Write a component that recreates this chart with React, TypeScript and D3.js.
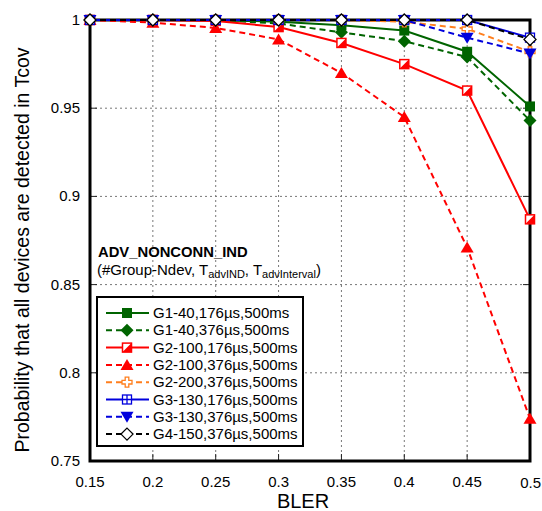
import React from 'react'
import * as d3 from 'd3'

const bler = [0.15, 0.2, 0.25, 0.3, 0.35, 0.4, 0.45, 0.5]
const g1_40_176 = [1, 1, 1, 0.999, 0.997, 0.994, 0.982, 0.951]
const g1_40_376 = [1, 1, 1, 0.998, 0.993, 0.988, 0.979, 0.943]
const g2_100_176 = [1, 1, 0.9995, 0.996, 0.987, 0.975, 0.96, 0.887]
const g2_100_376 = [1, 0.9985, 0.9955, 0.989, 0.97, 0.945, 0.871, 0.774]
const g2_200_376 = [1, 1, 1, 1, 1, 0.999, 0.995, 0.982]
const g3_130_176 = [1, 1, 1, 1, 1, 1, 1, 0.99]
const g3_130_376 = [1, 1, 1, 1, 1, 1, 0.99, 0.981]
const g4_150_376 = [1, 1, 1, 1, 1, 1, 1, 0.989]

const xTicks = [0.15, 0.2, 0.25, 0.3, 0.35, 0.4, 0.45, 0.5]
const xTickLabels = ['0.15', '0.2', '0.25', '0.3', '0.35', '0.4', '0.45', '0.5']
const yTicks = [0.75, 0.8, 0.85, 0.9, 0.95, 1]
const yTickLabels = ['0.75', '0.8', '0.85', '0.9', '0.95', '1']

const series = [
  { name: 'G1-40,176µs,500ms', values: g1_40_176, color: '#006400', dash: null, marker: 'square' },
  { name: 'G1-40,376µs,500ms', values: g1_40_376, color: '#006400', dash: '6,4', marker: 'diamond' },
  { name: 'G2-100,176µs,500ms', values: g2_100_176, color: '#ff0000', dash: null, marker: 'halfsquare' },
  { name: 'G2-100,376µs,500ms', values: g2_100_376, color: '#ff0000', dash: '6,4', marker: 'triangle' },
  { name: 'G2-200,376µs,500ms', values: g2_200_376, color: '#ff7f1e', dash: '6,4', marker: 'cross' },
  { name: 'G3-130,176µs,500ms', values: g3_130_176, color: '#0000dd', dash: null, marker: 'gridsquare' },
  { name: 'G3-130,376µs,500ms', values: g3_130_376, color: '#0000dd', dash: '6,4', marker: 'tridown' },
  { name: 'G4-150,376µs,500ms', values: g4_150_376, color: '#000000', dash: '6,4', marker: 'opendiamond' },
]

const font = 'Liberation Sans, Arial, sans-serif'

const Marker = ({ type, x, y, color }) => {
  const s = 5
  switch (type) {
    case 'square':
      return <rect x={x - s} y={y - s} width={2 * s} height={2 * s} fill={color} />
    case 'diamond':
      return <path d={`M${x},${y - 6.5}L${x + 6.5},${y}L${x},${y + 6.5}L${x - 6.5},${y}Z`} fill={color} />
    case 'halfsquare':
      return (
        <g>
          <rect x={x - 4.5} y={y - 4.5} width={9} height={9} fill="#fff" stroke={color} strokeWidth={1.5} />
          <path d={`M${x + 4.5},${y - 4.5}L${x + 4.5},${y + 4.5}L${x - 4.5},${y + 4.5}Z`} fill={color} />
        </g>
      )
    case 'triangle':
      return <path d={`M${x},${y - 6}L${x + 6.5},${y + 5}L${x - 6.5},${y + 5}Z`} fill={color} />
    case 'cross': {
      const a = 1.8, b = 5
      return (
        <path
          d={`M${x - a},${y - b}H${x + a}V${y - a}H${x + b}V${y + a}H${x + a}V${y + b}H${x - a}V${y + a}H${x - b}V${y - a}H${x - a}Z`}
          fill="#fff"
          stroke={color}
          strokeWidth={1.3}
        />
      )
    }
    case 'gridsquare':
      return (
        <g fill="none" stroke={color} strokeWidth={1.3}>
          <rect x={x - 4.5} y={y - 4.5} width={9} height={9} fill="#fff" />
          <path d={`M${x},${y - 4.5}V${y + 4.5}M${x - 4.5},${y}H${x + 4.5}`} />
        </g>
      )
    case 'tridown':
      return <path d={`M${x},${y + 6}L${x + 6.5},${y - 5}L${x - 6.5},${y - 5}Z`} fill={color} />
    case 'opendiamond':
      return (
        <path
          d={`M${x},${y - 6}L${x + 6},${y}L${x},${y + 6}L${x - 6},${y}Z`}
          fill="#fff"
          stroke={color}
          strokeWidth={1.3}
        />
      )
    default:
      return null
  }
}

export default function App() {
  const width = 542
  const height = 511
  const x = d3.scaleLinear().domain([0.15, 0.5]).range([90, 530])
  const y = d3.scaleLinear().domain([0.75, 1]).range([461, 20])

  const line = d3
    .line<number>()
    .x((d, i) => x(bler[i]))
    .y((d) => y(d))

  const legendX = 97
  const legendY = 297
  const rowH = 17.3

  return (
    <svg
      width={width}
      height={height}
      style={{ position: 'absolute', left: 0, top: 0, background: '#fff' }}
      fontFamily={font}
    >
      {/* grid */}
      <g stroke="#777" strokeWidth={1} strokeDasharray="2,3">
        {xTicks.slice(1, -1).map((t) => (
          <line key={'gx' + t} x1={x(t)} x2={x(t)} y1={y(1)} y2={y(0.75)} />
        ))}
        {yTicks.slice(1, -1).map((t) => (
          <line key={'gy' + t} x1={x(0.15)} x2={x(0.5)} y1={y(t)} y2={y(t)} />
        ))}
      </g>

      {/* inward ticks */}
      <g stroke="#222" strokeWidth={1}>
        {xTicks.slice(1, -1).map((t) => (
          <g key={'tx' + t}>
            <line x1={x(t)} x2={x(t)} y1={y(0.75)} y2={y(0.75) - 7} />
            <line x1={x(t)} x2={x(t)} y1={y(1)} y2={y(1) + 7} />
          </g>
        ))}
        {yTicks.slice(1, -1).map((t) => (
          <g key={'ty' + t}>
            <line x1={x(0.15)} x2={x(0.15) + 7} y1={y(t)} y2={y(t)} />
            <line x1={x(0.5)} x2={x(0.5) - 7} y1={y(t)} y2={y(t)} />
          </g>
        ))}
      </g>

      {/* frame */}
      <rect
        x={x(0.15)}
        y={y(1)}
        width={x(0.5) - x(0.15)}
        height={y(0.75) - y(1)}
        fill="none"
        stroke="#000"
        strokeWidth={3}
      />

      {/* tick labels */}
      <g fontSize={15} fill="#000">
        {xTicks.map((t, i) =>
          i === xTicks.length - 1 ? (
            <text key={'lx' + t} x={541} y={488} textAnchor="end">
              {xTickLabels[i]}
            </text>
          ) : (
            <text key={'lx' + t} x={x(t)} y={486.5} textAnchor="middle">
              {xTickLabels[i]}
            </text>
          )
        )}
        {yTicks.map((t, i) => (
          <text key={'ly' + t} x={80} y={y(t) + 5} textAnchor="end">
            {yTickLabels[i]}
          </text>
        ))}
      </g>

      {/* axis titles */}
      <text x={x(0.325) - 7} y={508} fontSize={20} textAnchor="middle">
        BLER
      </text>
      <text
        transform={`translate(29,${250}) rotate(-90)`}
        fontSize={19.5}
        textAnchor="middle"
      >
        Probability that all devices are detected in Tcov
      </text>

      {/* series */}
      {series.map((s) => (
        <g key={s.name}>
          <path
            d={line(s.values) || ''}
            fill="none"
            stroke={s.color}
            strokeWidth={2}
            strokeDasharray={s.dash || undefined}
          />
          {s.values.map((v, i) => (
            <Marker key={i} type={s.marker} x={x(bler[i])} y={y(v)} color={s.color} />
          ))}
        </g>
      ))}

      {/* legend title */}
      <text x={98} y={257} fontSize={14.8} fontWeight="bold">
        ADV_NONCONN_IND
      </text>
      <text x={97} y={275} fontSize={15}>
        (#Group-Ndev, T<tspan fontSize={11} dy={3}>advIND</tspan>
        <tspan dy={-3}>, T</tspan>
        <tspan fontSize={11} dy={3}>advInterval</tspan>
        <tspan dy={-3}>)</tspan>
      </text>

      {/* legend */}
      <rect x={legendX} y={legendY} width={206} height={149} fill="#fff" stroke="#000" strokeWidth={2} />
      {series.map((s, i) => {
        const cy = legendY + 16 + i * rowH
        return (
          <g key={'leg' + s.name}>
            <line
              x1={106}
              x2={149}
              y1={cy}
              y2={cy}
              stroke={s.color}
              strokeWidth={2}
              strokeDasharray={s.dash || undefined}
            />
            <Marker type={s.marker} x={127} y={cy} color={s.color} />
            <text x={153} y={cy + 5} fontSize={15}>
              {s.name}
            </text>
          </g>
        )
      })}
    </svg>
  )
}
